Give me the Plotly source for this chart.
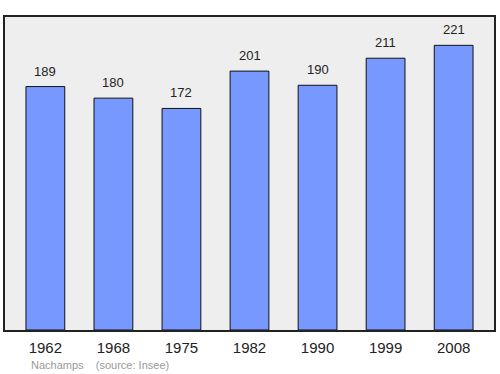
import plotly.graph_objects as go

years = ["1962", "1968", "1975", "1982", "1990", "1999", "2008"]
population = [189, 180, 172, 201, 190, 211, 221]
footer = "Nachamps    (source: Insee)"

fig = go.Figure()
fig.add_trace(go.Bar(
    x=years, y=population, width=0.57,
    marker=dict(color="#7799ff", line=dict(color="#111111", width=1)),
    hoverinfo="skip",
))
for i, v in enumerate(population):
    fig.add_annotation(x=i, y=v, text=str(v), showarrow=False, yanchor="bottom",
                       yshift=6, font=dict(family="Liberation Sans, Arial", size=13, color="#222222"))
fig.add_annotation(xref="paper", yref="paper", x=0.05, y=-0.112, xanchor="left", yanchor="middle",
                   text=footer, showarrow=False,
                   font=dict(family="Liberation Sans, Arial", size=11, color="#999999"))
fig.update_layout(
    width=500, height=374, margin=dict(l=5, r=4, t=17, b=44),
    paper_bgcolor="white", plot_bgcolor="#eeeeee", showlegend=False,
    xaxis=dict(type="category", range=[-0.593, 6.593], showgrid=False, zeroline=False,
               showline=True, linecolor="#222222", linewidth=1.5, mirror=True,
               ticks="", ticklabelstandoff=3,
               tickfont=dict(family="Liberation Sans, Arial", size=15, color="#222222")),
    yaxis=dict(range=[0, 243], showgrid=False, zeroline=False, showticklabels=False,
               showline=True, linecolor="#222222", linewidth=1.5, mirror=True, ticks=""),
)
fig.write_html("out.html")
